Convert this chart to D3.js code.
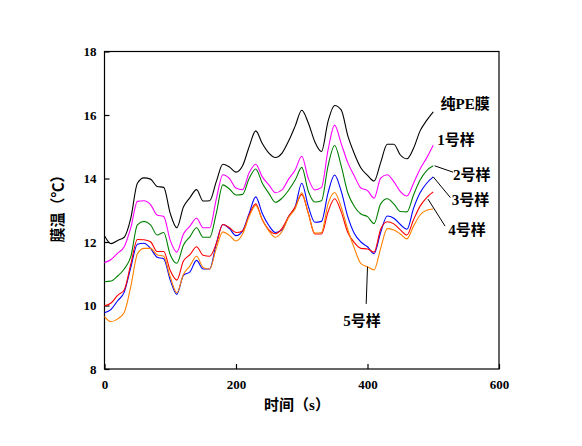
<!DOCTYPE html>
<html>
<head>
<meta charset="utf-8">
<script src="https://cdn.jsdelivr.net/npm/d3@7/dist/d3.min.js"></script>
<style>
  html, body { margin: 0; padding: 0; background: #fff; }
  svg { display: block; }
  .lbl { font-family: "Liberation Serif", "Times New Roman", "Noto Sans CJK SC", serif; font-weight: bold; fill: #000; }
</style>
</head>
<body>
<svg id="chart" width="582" height="446"></svg>
<script>
// ---------- data ----------
const times = d3.range(0, 501, 10);
const seriesNames = ["纯PE膜", "1号样", "2号样", "3号样", "4号样", "5号样"];
const xTicks = [0, 200, 400, 600];
const yTicks = [8, 10, 12, 14, 16, 18];

const pePure = [12.2, 11.95, 12.05, 12.15, 12.75, 13.85, 14.02, 13.98, 13.75, 13.72,
  12.9, 12.45, 13.1, 13.4, 13.65, 13.29, 13.3, 13.9, 14.45, 14.36,
  14.2, 14.4, 15.0, 15.5, 15.1, 14.8, 14.66, 14.8, 15.18, 15.65,
  16.15, 15.75, 15.15, 14.85, 15.8, 16.3, 16.16, 15.35, 14.78, 14.33,
  14.1, 13.92, 14.5, 15.08, 15.08, 14.74, 14.62, 14.95, 15.5, 15.83, 16.1];
const sample1 = [11.35, 11.45, 11.65, 11.85, 12.45, 13.28, 13.3, 13.18, 12.85, 12.8,
  12.05, 11.68, 12.25, 12.5, 12.75, 12.45, 12.45, 13.35, 14.12, 14.0,
  13.7, 13.65, 14.18, 14.45, 14.05, 13.8, 13.55, 13.64, 13.98, 14.27,
  14.7, 14.0, 13.64, 13.72, 14.9, 15.68, 15.1, 14.5, 14.08, 13.7,
  13.62, 13.38, 14.01, 14.12, 13.9, 13.59, 13.45, 13.85, 14.3, 14.65, 15.05];
const sample2 = [10.75, 10.77, 10.93, 11.15, 11.54, 12.54, 12.65, 12.54, 12.22, 12.3,
  11.6, 11.33, 11.9, 12.17, 12.45, 12.15, 12.15, 12.9, 13.8, 13.67,
  13.48, 13.5, 14.0, 14.3, 13.85, 13.53, 13.25, 13.38, 13.63, 13.95,
  14.35, 13.6, 13.26, 13.3, 14.4, 15.04, 14.4, 13.55, 13.12, 12.88,
  12.8, 12.58, 13.2, 13.36, 13.2, 12.96, 12.95, 13.48, 13.95, 14.25, 14.4];
const sample3 = [9.77, 9.88, 10.15, 10.42, 11.2, 11.93, 11.96, 11.8, 11.52, 11.47,
  10.8, 10.35, 10.95, 11.06, 11.42, 11.15, 11.15, 11.95, 12.55, 12.42,
  12.2, 12.35, 12.9, 13.42, 12.9, 12.52, 12.3, 12.38, 12.8, 13.1,
  13.85, 13.12, 12.62, 12.65, 13.55, 14.11, 13.6, 12.8, 12.27, 12.0,
  11.85, 11.63, 12.3, 12.82, 12.75, 12.55, 12.4, 13.06, 13.55, 13.85, 14.05];
const sample4 = [9.99, 10.08, 10.32, 10.49, 11.3, 12.08, 12.07, 12.01, 11.7, 11.7,
  11.1, 10.8, 11.4, 11.6, 11.85, 11.58, 11.55, 11.95, 12.55, 12.45,
  12.3, 12.35, 12.85, 13.2, 12.7, 12.38, 12.26, 12.43, 12.8, 13.1,
  13.5, 12.9, 12.25, 12.25, 12.95, 13.36, 12.95, 12.3, 11.98, 11.8,
  11.78, 11.68, 12.4, 12.64, 12.57, 12.38, 12.22, 12.7, 13.13, 13.4, 13.58];
const sample5 = [9.65, 9.49, 9.58, 9.78, 10.6, 11.62, 11.8, 11.8, 11.6, 11.55,
  10.9, 10.4, 10.98, 11.25, 11.55, 11.2, 11.15, 11.8, 12.32, 12.21,
  12.03, 12.25, 12.8, 13.15, 12.7, 12.35, 12.15, 12.33, 12.77, 13.05,
  13.55, 12.9, 12.28, 12.3, 13.2, 13.56, 13.1, 12.4, 11.8, 11.32,
  11.22, 11.12, 11.8, 12.42, 12.38, 12.25, 12.1, 12.5, 12.85, 13.0, 13.04];

// ---------- layout ----------
const svg = d3.select("#chart");
const margin = {left: 104.5, right: 582 - 499, top: 51.5, bottom: 446 - 369};
const W = 582, H = 446;
const x = d3.scaleLinear().domain([0, 600]).range([margin.left, W - margin.right]);
const y = d3.scaleLinear().domain([8, 18]).range([H - margin.bottom, margin.top]);

const allSeries = [pePure, sample1, sample2, sample3, sample4, sample5];
const colors = ["#000000", "#ff00ff", "#008000", "#0000ff", "#ff0000", "#ff8000"];

// frame
svg.append("rect")
  .attr("x", x(0)).attr("y", y(18))
  .attr("width", x(600) - x(0)).attr("height", y(8) - y(18))
  .attr("fill", "none").attr("stroke", "#000").attr("stroke-width", 1.2);

// axes
const xAxis = d3.axisBottom(x).tickValues(xTicks).tickSizeInner(-5).tickSizeOuter(0).tickPadding(11);
const gx = svg.append("g").attr("transform", `translate(0,${y(8)})`).call(xAxis);
const yAxis = d3.axisLeft(y).tickValues(yTicks).tickSizeInner(-5).tickSizeOuter(0).tickPadding(8);
const gy = svg.append("g").attr("transform", `translate(${x(0)},0)`).call(yAxis);
[gx, gy].forEach(g => {
  g.attr("font-family", null);
  g.select(".domain").remove();
  g.selectAll(".tick line").attr("stroke", "#000").attr("stroke-width", 1.2);
  g.selectAll(".tick text").attr("class", "lbl").style("font-size", "13px").attr("fill", "#000");
});

// lines
const line = d3.line()
  .x((d, i) => x(times[i]))
  .y(d => y(d))
  .curve(d3.curveMonotoneX);

allSeries.forEach((s, i) => {
  svg.append("path")
    .datum(s)
    .attr("d", line)
    .attr("fill", "none")
    .attr("stroke", colors[i])
    .attr("stroke-width", 1.1);
});

// annotations (data coordinates)
const annots = [
  {name: seriesNames[0], tx: 511, ty: 16.18, lead: null},
  {name: seriesNames[1], tx: 506, ty: 15.07, lead: null},
  {name: seriesNames[2], tx: 530, ty: 13.95, lead: [[502, 14.4], [530, 14.2]]},
  {name: seriesNames[3], tx: 528, ty: 13.17, lead: [[500, 14.05], [526, 13.4]]},
  {name: seriesNames[4], tx: 523, ty: 12.22, lead: [[492, 13.35], [518, 12.5]]},
  {name: seriesNames[5], tx: 363, ty: 9.37, lead: [[400, 11.22], [398, 10.05]]}
];
annots.forEach(a => {
  if (a.lead) {
    svg.append("line")
      .attr("x1", x(a.lead[0][0])).attr("y1", y(a.lead[0][1]))
      .attr("x2", x(a.lead[1][0])).attr("y2", y(a.lead[1][1]))
      .attr("stroke", "#000").attr("stroke-width", 1);
  }
  svg.append("text").attr("class", "lbl")
    .attr("x", x(a.tx)).attr("y", y(a.ty))
    .style("font-size", "15px")
    .text(a.name);
});

// axis titles
svg.append("text").attr("class", "lbl")
  .attr("x", 297).attr("y", 410)
  .attr("text-anchor", "middle")
  .style("font-size", "15px")
  .text("时间（s）");
svg.append("text").attr("class", "lbl")
  .attr("transform", `translate(63,205) rotate(-90)`)
  .attr("text-anchor", "middle")
  .style("font-size", "15px")
  .text("膜温（℃）");
</script>
</body>
</html>
